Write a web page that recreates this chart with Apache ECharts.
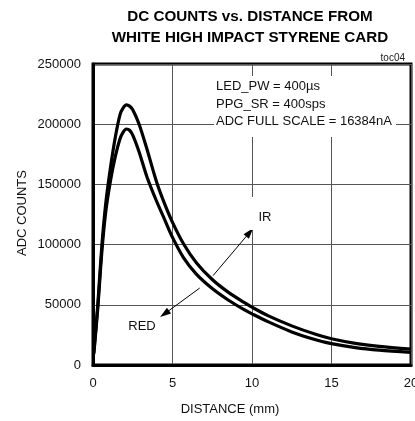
<!DOCTYPE html>
<html>
<head>
<meta charset="utf-8">
<script src="https://cdn.jsdelivr.net/npm/echarts@6/dist/echarts.min.js"></script>
<style>
  html, body { margin: 0; padding: 0; background: #fff; }
  #chart { width: 415px; height: 421px; }
</style>
</head>
<body>
<div id="chart"></div>
<script>
  // distance (mm) sample points
  const distance = [0.05, 0.3, 0.55, 0.8, 1.1, 1.4, 1.7, 1.9, 2.1, 2.3, 2.5, 2.9, 3.4, 4, 4.5, 5, 5.7, 6.5, 7.5, 8.5, 9.5, 10, 11, 12.5, 14, 15, 16.5, 18, 20]
  const irCounts = [10000, 50000, 98000, 134000, 164000, 189000, 208000, 213500, 216000, 215000, 212000, 200000, 179000, 152000, 134000, 118500, 100500, 85000, 71000, 60500, 52000, 48000, 41000, 32500, 25500, 21800, 18000, 15500, 13200]
  const redCounts = [9000, 47000, 93000, 127000, 153000, 173000, 188000, 193500, 196000, 195000, 191000, 177000, 156000, 136000, 121000, 106000, 89000, 75500, 63500, 54000, 46000, 42500, 36000, 27500, 21000, 17700, 14500, 12400, 10500]
  const xTicks = [0, 5, 10, 15, 20]
  const yTicks = [0, 50000, 100000, 150000, 200000, 250000]
  // arrow endpoints [distance, counts]
  const irArrow = [[7.55, 74200], [9.86, 110250]]
  const redArrow = [[6.71, 63900], [4.5, 42500]]
  const noteLines = ['LED_PW = 400µs', 'PPG_SR = 400sps', 'ADC FULL SCALE = 16384nA']

  const font = 'Liberation Sans, Arial, sans-serif'
  const toPairs = (xs, ys) => xs.map((x, i) => [x, ys[i]])

  const arrowLine = (pts) => ({
    silent: true,
    symbol: ['none', 'triangle'],
    symbolSize: [7, 11],
    lineStyle: { color: '#000', width: 1, type: 'solid' },
    label: { show: false },
    data: [[{ coord: pts[0] }, { coord: pts[1] }]]
  })

  let chart = echarts.init(document.getElementById('chart'))
  chart.setOption({
    animation: false,
    title: {
      text: 'DC COUNTS vs. DISTANCE FROM\nWHITE HIGH IMPACT STYRENE CARD',
      left: 245,
      top: 1,
      textAlign: 'center',
      textStyle: { fontFamily: font, fontSize: 15.2, fontWeight: 'bold', lineHeight: 21, color: '#000' }
    },
    grid: {
      left: 93, right: 4, top: 64, bottom: 56,
      outerBoundsMode: 'none',
      containLabel: false,
      show: true, borderColor: '#000', borderWidth: 3
    },
    xAxis: {
      type: 'value',
      min: xTicks[0], max: xTicks[xTicks.length - 1], interval: 5,
      axisLine: { show: true, lineStyle: { color: '#000', width: 3 } },
      axisTick: { show: false },
      axisLabel: { margin: 12, fontFamily: font, fontSize: 13, color: '#111' },
      splitLine: { show: true, lineStyle: { color: '#555', width: 1 } }
    },
    yAxis: {
      type: 'value',
      min: yTicks[0], max: yTicks[yTicks.length - 1], interval: 50000,
      axisLine: { show: true, lineStyle: { color: '#000', width: 3 } },
      axisTick: { show: false },
      axisLabel: { margin: 12, fontFamily: font, fontSize: 13, color: '#111', formatter: (v) => String(v) },
      splitLine: { show: true, lineStyle: { color: '#555', width: 1 } }
    },
    series: [
      {
        name: 'IR',
        type: 'line',
        data: toPairs(distance, irCounts),
        smooth: 0.3,
        showSymbol: false,
        lineStyle: { color: '#000', width: 3.2 },
        z: 3,
        markLine: arrowLine(irArrow)
      },
      {
        name: 'RED',
        type: 'line',
        data: toPairs(distance, redCounts),
        smooth: 0.3,
        showSymbol: false,
        lineStyle: { color: '#000', width: 3.2 },
        z: 3,
        markLine: arrowLine(redArrow)
      }
    ],
    graphic: [
      // white box behind the settings note
      { type: 'rect', shape: { x: 214, y: 76, width: 182, height: 61 }, style: { fill: '#fff' }, z: 10 },
      {
        type: 'text', left: 216, top: 78, z: 11,
        style: { text: noteLines.join('\n'), font: '13px ' + font, lineHeight: 17.5, fill: '#111' }
      },
      // IR label
      { type: 'rect', shape: { x: 244, y: 197, width: 32, height: 33 }, style: { fill: '#fff' }, z: 10 },
      { type: 'text', x: 265, y: 217, z: 11, style: { text: 'IR', font: '13px ' + font, align: 'center', verticalAlign: 'middle', fill: '#111' } },
      { type: 'text', x: 142, y: 326, z: 11, style: { text: 'RED', font: '13px ' + font, align: 'center', verticalAlign: 'middle', fill: '#111' } },
      { type: 'text', x: 405, y: 63, z: 11, style: { text: 'toc04', font: '10px ' + font, align: 'right', verticalAlign: 'bottom', fill: '#222' } },
      { type: 'text', x: 230, y: 409, style: { text: 'DISTANCE (mm)', font: '13px ' + font, align: 'center', verticalAlign: 'middle', fill: '#111' } },
      { type: 'text', x: 22, y: 213, rotation: Math.PI / 2, style: { text: 'ADC COUNTS', font: '13px ' + font, align: 'center', verticalAlign: 'middle', fill: '#111' } }
    ]
  })
</script>
</body>
</html>
